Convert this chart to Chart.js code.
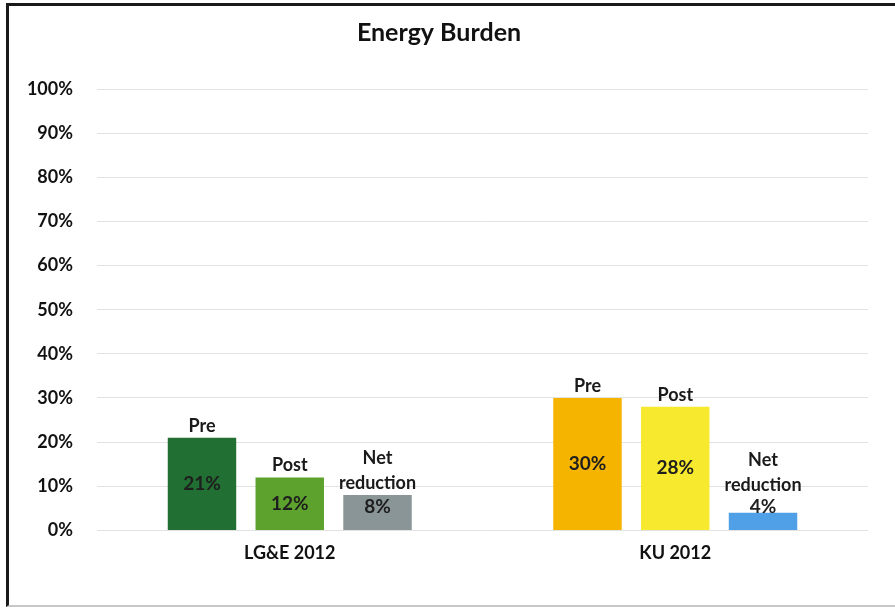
<!DOCTYPE html>
<html>
<head>
<meta charset="utf-8">
<script src="https://cdn.jsdelivr.net/npm/chart.js@4/dist/chart.umd.min.js"></script>
<style>
  body { margin: 0; background: #fff; }
  #wrap { position: relative; width: 895px; height: 609px; overflow: hidden; }
  #frame {
    position: absolute; left: 6px; top: 3px; right: -10px; bottom: 2px;
    border-left: 3px solid #1a1a1a; border-top: 3px solid #1a1a1a;
    border-bottom: 2px solid #c8c8c8;
  }
  canvas { position: absolute; left: 0; top: 0; }
</style>
</head>
<body>
<div id="wrap">
  <div id="frame"></div>
  <canvas id="chart" width="895" height="609"></canvas>
</div>
<script>
const categories = ["LG&E 2012", "KU 2012"];
const seriesNames = ["Pre", "Post", "Net reduction"];
const preValues = [21, 30];
const postValues = [12, 28];
const netValues = [8, 4];
const yTicks = [0, 10, 20, 30, 40, 50, 60, 70, 80, 90, 100];

const preColors = ["#216f32", "#f5b400"];
const postColors = ["#5ea22e", "#f7e92e"];
const netColors = ["#8a9597", "#4fa0e6"];

const fontFamily = "Lato, 'Open Sans', sans-serif";

// draws series name above each bar and value inside it
const barLabels = {
  id: "barLabels",
  afterDatasetsDraw(chart) {
    const ctx = chart.ctx;
    ctx.save();
    ctx.textAlign = "center";
    ctx.textBaseline = "middle";
    chart.data.datasets.forEach((ds, di) => {
      const meta = chart.getDatasetMeta(di);
      meta.data.forEach((bar, i) => {
        const top = bar.y;
        const base = bar.base;
        const valueY = Math.min((top + base) / 2, base - 23);
        ctx.fillStyle = "#1e1e1e";
        ctx.font = "bold 19px " + fontFamily;
        ctx.fillText(Math.round(ds.data[i]) + "%", bar.x, valueY);

        const lines = ds.label.split(" ");
        const anchor = Math.min(top, valueY - 10);
        ctx.font = "bold 18px " + fontFamily;
        ctx.fillStyle = "#1a1a1a";
        for (let k = 0; k < lines.length; k++) {
          const y = anchor - 12 - (lines.length - 1 - k) * 25;
          ctx.fillText(lines[k], bar.x, y);
        }
      });
    });
    ctx.restore();
  }
};

new Chart(document.getElementById("chart"), {
  type: "bar",
  data: {
    labels: categories,
    datasets: [
      { label: seriesNames[0], data: preValues, backgroundColor: preColors },
      { label: seriesNames[1], data: postValues, backgroundColor: postColors },
      { label: seriesNames[2], data: netValues, backgroundColor: netColors },
    ],
  },
  options: {
    responsive: false,
    animation: false,
    categoryPercentage: 0.683,
    barPercentage: 0.78,
    layout: { padding: { left: 10, right: 27, top: 5, bottom: 33 } },
    plugins: {
      legend: { display: false },
      tooltip: { enabled: false },
      title: {
        display: true,
        text: "Energy Burden",
        color: "#111",
        font: { family: fontFamily, size: 25, weight: "bold" },
        padding: { top: 13, bottom: 41 },
      },
    },
    scales: {
      x: {
        grid: { display: false, drawTicks: false },
        border: { display: false },
        ticks: {
          color: "#111",
          padding: 12,
          font: { family: fontFamily, size: 18, weight: 700 },
        },
      },
      y: {
        min: 0,
        max: 100,
        afterBuildTicks(scale) {
          scale.ticks = yTicks.map(v => ({ value: v }));
        },
        afterFit(scale) {
          scale.width = 87;
        },
        grid: {
          color: "#e2e2e2",
          drawTicks: false,
        },
        border: { display: false },
        ticks: {
          color: "#111",
          padding: 24,
          font: { family: fontFamily, size: 18, weight: 700 },
          callback: v => v + "%",
        },
      },
    },
  },
  plugins: [barLabels],
});
</script>
</body>
</html>
